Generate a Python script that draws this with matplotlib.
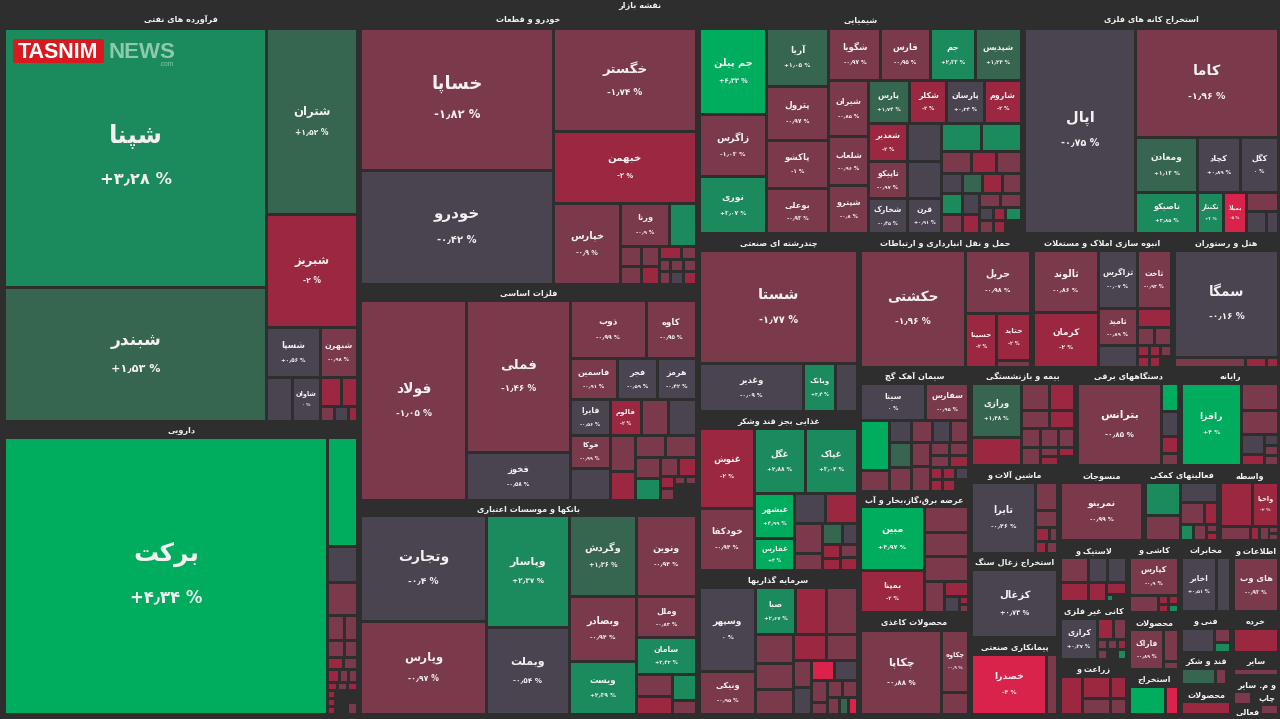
import re
import numpy as np
import matplotlib
matplotlib.use("Agg")
import matplotlib.pyplot as plt
from matplotlib.patches import Rectangle, FancyBboxPatch

nan = float("nan")
# ---------- data: tile names, % change, tile size (value), nesting of the slices ----------
OIL_N = ["شپنا","شبندر","شتران","شبریز","شسپا","شبهرن","","شاوان","","","","",""]
OIL_P = [3.28,1.53,1.52,-2,0.56,-0.98,-0.3,0,-2,-2,-1,-0.3,-2.5]
OIL_S = [67338,34974,16744,10192,2650,1850,1150,1196,609,464,225,210,135]
OIL_T = "H(V(0,1),V(2,3,H(4,5),H(6,7,V(H(8,9),H(10,11,12)))))"

PHARMA_N = ["برکت"]
PHARMA_P = [4.34,4.5,-0.4,-1,-1,-1,-1,-1,-2.2,-1,-2.5,-1,-1,-2,-1.2,-2,-2,-2,-2,nan,nan,-1]
PHARMA_S = [89471,3270,1050,990,425,325,289,221,192,168,156,117,117,80,80,80,64,64,64,264,144,120]
PHARMA_T = "H(0,V(1,2,3,H(4,5),H(6,7),H(8,9),H(10,11,12),H(13,14,15),H(V(16,17,18),V(19,H(20,21)))))"

AUTO_N = ["خساپا","خودرو","خگستر","خبهمن","خپارس","ورنا"]
AUTO_P = [-1.82,-0.42,-1.74,-2,-0.9,-0.9,2.5,-1,-1,-1,-2,-2,-1,-1,-1,-1,-1,-0.3,-2]
AUTO_S = [27264,21888,14729,10153,5427,2107,1161,420,378,360,324,286,195,132,143,156,156,169,169]
AUTO_T = "H(V(0,1),V(2,3,H(4,V(H(5,6),H(V(7,8),V(9,10),V(H(11,12),H(V(13,14),V(H(15,16),H(17,18)))))))))"

METAL_N = ["فولاد","فملی","فخوز","ذوب","کاوه","فاسمین","فجر","هرمز","فایرا","فالوم","","","فوکا"]
METAL_P = [-1.05,-1.46,-0.58,-0.99,-0.95,-0.91,-0.59,-0.42,-0.56,-2,-1,-0.3,-0.99,-0.3,-1,-2,-1,-1,-1,2.5,-1,-2,-2,-1,-1,-1,nan]
METAL_S = [21200,15656,4944,4408,2900,1927,1640,1599,1440,1116,972,1008,1320,1280,900,725,660,682,525,550,342,342,168,168,88,88,352]
METAL_T = "H(0,V(1,2),V(H(3,4),H(5,6,7),H(8,9,10,11),H(V(12,13),V(14,15),V(H(16,17),H(V(18,19),V(H(20,21),H(V(22,23),V(H(24,25),26))))))))"

BANK_N = ["وتجارت","وپارس","وپاسار","وبملت","وگردش","وبصادر","ویست","ونوین","وملل","سامان"]
BANK_P = [-0.4,-0.97,2.37,-0.54,1.36,-0.94,2.39,-0.94,-0.83,2.43,-1,-2,2.5,-1]
BANK_S = [13250,11625,9213,7221,5427,4288,3551,4860,2400,2220,792,648,624,336]
BANK_T = "H(V(0,1),V(2,3),V(4,5,6),V(7,8,9,H(V(10,11),V(12,13))))"

CHEM_N = ["جم پیلن","زاگرس","نوری","آریا","پترول","پاکشو","بوعلی","شگویا","فارس","جم","شپدیس","شیران","شلعاب","شپترو",
          "پارس","شکلر","پارسان","شاروم","شغدیر","تاپیکو","شخارک","","","قرن"]
CHEM_P = [4.33,-1.03,3.07,1.05,-0.97,-1,-0.93,-0.97,-0.95,2.33,1.24,-0.85,-0.96,-0.8,1.74,-2,0.34,-2,-2,-0.97,-0.45,-0.3,-0.3,0.91,
          2.5,2.5,-1,-2,-1,-0.3,1.3,-2,-1,2.5,-1,-0.3,-2,-1,-1,-0.3,-2,2.5,-1,-2,nan]
CHEM_S = [5695,4154,3752,3591,3339,3024,2772,2704,2548,2340,2392,2200,1920,1880,1763,1591,1591,1591,1482,1443,1365,1292,1258,1190,
          1092,1120,638,550,550,400,400,400,380,420,380,357,323,294,294,182,156,208,182,156,208]
CHEM_T = "H(V(0,1,2),V(3,4,5,6),V(H(7,8,9,10),H(V(11,12,13),V(H(14,15,16,17),H(V(18,19,20),V(21,22,23),V(H(24,25),H(26,27,28),H(29,30,31,32),H(V(33,34),V(35,36),V(H(37,38),H(39,40,41),H(42,43,44)))))))))"

ORE_N = ["اپال","کاما","ومعادن","کچاد","کگل","تاصیکو","تکنتار","بمیلا"]
ORE_P = [-0.75,-1.96,1.13,0.89,0,3.85,3,-5,-1,-0.3,-0.3]
ORE_S = [22755,15587,3410,2365,2090,2542,1066,943,608,440,264]
ORE_T = "H(0,V(1,H(2,3,4),H(5,6,7,V(8,H(9,10)))))"

MULTI_N = ["شستا","وغدیر","وبانک"]
MULTI_P = [-1.77,-0.09,3.4,-0.3]
MULTI_S = [17696,4992,1536,1056]
MULTI_T = "V(0,H(1,2,3))"

FOOD_N = ["غنوش","خودکفا","غگل","غپاک","غبشهر","غفارس"]
FOOD_P = [-2,-0.94,2.88,3.04,4.99,4,-0.3,-2,-1,-1,1.8,-0.3,-2,-2,-1,-2]
FOOD_S = [4400,3410,3315,3380,1800,1280,930,960,840,476,420,315,252,216,221,221]
FOOD_T = "H(V(0,1),V(H(2,3),H(V(4,5),V(H(6,7),H(V(8,9),V(H(10,11),H(V(12,13),V(14,15))))))))"

INVEST_N = ["وسپهر","ونیکی","صبا"]
INVEST_P = [0,-0.95,2.67,-2,-1,-1,-1,-1,-2,-1,-1,-0.3,-4,-0.3,-1,-1,-1,-1,-1,1.5,-4]
INVEST_S = [4704,2408,1880,1457,1457,1102,988,950,858,806,486,486,460,460,352,192,255,255,204,153,153]
INVEST_T = "H(V(0,1),V(H(2,3,4),H(V(5,6,7),V(H(8,9),H(V(10,11),V(H(12,13),H(V(14,15),V(H(16,17),H(18,19,20)))))))))"

TRANS_N = ["حکشتی","حریل","حسینا","حتاید"]
TRANS_P = [-1.96,-0.98,-2,-2,-1]
TRANS_S = [12051,4032,1674,1551,231]
TRANS_T = "H(0,V(1,H(2,V(3,4))))"

BUILD_N = ["ثالوند","کرمان","ثزاگرس","ثاخت","ثامید"]
BUILD_P = [-0.86,-2,-0.07,-0.93,-0.89,-0.3,-2,-1,-1,-2,-2,-1,-2,-2,nan]
BUILD_S = [3968,3520,2204,1972,1406,836,646,306,306,132,121,121,132,121,121]
BUILD_T = "H(V(0,1),V(H(2,3),H(V(4,5),V(6,H(7,8),H(9,10,11),H(12,13,14)))))"

HOTEL_N = ["سمگا"]
HOTEL_P = [-0.16,-1,-2,-2]
HOTEL_S = [10500,680,200,120]
HOTEL_T = "V(0,H(1,2,3))"

CEMENT_N = ["سیتا","سفارس"]
CEMENT_P = [0,-0.95,4.5,-1,-0.3,-1,-0.3,-1,1.3,-1,-1,-1,-1,-1,-1,-2,-2,-2,-2,-2,-0.3,nan]
CEMENT_S = [2405,1591,1450,609,484,462,396,396,550,528,456,475,247,247,228,228,156,156,156,156,156,156]
CEMENT_T = "V(H(0,1),H(V(2,3),V(H(4,5,6,7),H(V(8,9),V(10,11),V(H(12,13),H(14,15),H(V(16,17),V(18,19),V(20,21)))))))"

POWER_N = ["مبین","بمپنا"]
POWER_P = [4.97,-2,-1,-1,-1.9,-1,-2,-0.3,-2,-1]
POWER_S = [4032,2688,1144,1056,1056,620,360,240,72,72]
POWER_T = "H(V(0,1),V(2,3,4,H(5,V(6,H(7,V(8,9))))))"

PAPER_N = ["چکاپا","چکاوه"]
PAPER_P = [-0.88,-0.9,-1]
PAPER_S = [6636,1612,572]
PAPER_T = "H(0,V(1,2))"

INSUR_N = ["ورازی"]
INSUR_P = [1.48,-2,-1,-2,-1,-2,-1,-1,-1,-1,-1,-2,-2,nan]
INSUR_S = [2700,1400,756,675,504,450,361,342,304,342,162,162,144,144]
INSUR_T = "H(V(0,1),V(H(2,3),H(4,5),H(6,7,8),H(9,V(10,11),V(12,13))))"

ELEC_N = ["بترانس"]
ELEC_P = [-0.85,4.5,-0.3,-2,-1]
ELEC_S = [6724,476,425,289,204]
ELEC_T = "H(0,V(1,2,3,4))"

COMP_N = ["رافزا"]
COMP_P = [4,-1,-1,-0.3,-2,-0.3,-1,-1]
COMP_S = [4756,972,864,440,242,154,140,140]
COMP_T = "H(0,V(1,2,H(V(3,4),V(5,6,7))))"

MACH_N = ["تایرا"]
MACH_P = [-0.46,-1,-1,-2,-1,-2,-1]
MACH_S = [4544,616,374,196,112,132,132]
MACH_T = "H(0,V(1,2,H(3,4),H(5,6)))"

COAL_N, COAL_P, COAL_S, COAL_T = ["کزغال"], [0.73], [5000], "H(0)"
CONTR_N, CONTR_P, CONTR_S = ["خصدرا"], [-4,-1.9], [4636,671]
CONTR_T = "H(0,1)"
TEXT_N, TEXT_P, TEXT_S, TEXT_T = ["نمرینو"], [-0.99], [5000], "H(0)"

AUX_N = [""]
AUX_P = [3,-1,-0.3,-1,-2,3,-1,-1,-2]
AUX_S = [1089,825,680,484,264,192,192,80,80]
AUX_T = "H(V(0,1),V(2,H(3,4),H(5,6,V(7,8))))"

BROKER_N = ["","واحیا"]
BROKER_P = [-2,-2,-1,-2.5,-1,-1,-1]
BROKER_S = [1320,1100,392,126,126,63,63]
BROKER_T = "V(H(0,1),H(2,3,4,V(5,6)))"

RUBBER_N = [""]
RUBBER_P = [-1,-0.3,-0.3,-2,-2,-2,2.5,nan]
RUBBER_S = [700,475,475,532,342,240,49,91]
RUBBER_T = "V(H(0,1,2),H(3,4,V(5,H(6,7))))"

NONMET_N = ["کرازی"]
NONMET_P = [0.27,-2,-1,-1,-1,-2,-1,nan,2.5]
NONMET_S = [1517,336,273,100,100,90,100,100,90]
NONMET_T = "H(0,V(H(1,2),H(3,4,5),H(6,7,8)))"

AGRI_N = [""]
AGRI_P = [-2,-2,-1,-2,-1]
AGRI_S = [836,616,448,352,256]
AGRI_T = "H(0,V(1,2),V(3,4))"

CERAM_N = ["کپارس"]
CERAM_P = [-0.9,-1,-2,-2,-2,2.5]
CERAM_S = [1862,493,90,80,90,80]
CERAM_T = "V(0,H(1,V(2,3),V(4,5)))"

PROD_N, PROD_P, PROD_S = ["فاراک"], [-0.89,-1,-1], [1360,480,120]
PROD_T = "H(0,V(1,2))"
MINE_N, MINE_P, MINE_S = [""], [4.5,-4], [1008,364]
MINE_T = "H(0,1)"
TELE_N, TELE_P, TELE_S = ["اخابر"], [0.51,-0.3], [1925,770]
TELE_T = "H(0,1)"
TECH_N, TECH_P, TECH_S = [""], [-0.3,-1,2.5], [792,224,160]
TECH_T = "H(0,V(1,2))"
SUGAR_N, SUGAR_P, SUGAR_S = [""], [1.5,-1,nan], [544,176,64]
SUGAR_T = "H(0,1,2)"
MFG_N, MFG_P, MFG_S, MFG_T = [""], [-2], [100], "H(0)"
INFO_N, INFO_P, INFO_S, INFO_T = ["های وب"], [-0.93], [100], "H(0)"
RETAIL_N, RETAIL_P, RETAIL_S, RETAIL_T = [""], [-2], [100], "H(0)"
OTHER_N, OTHER_P, OTHER_S, OTHER_T = [""], [-1], [100], "H(0)"
PRINT_N, PRINT_P, PRINT_S = [""], [-1,nan,nan,-1], [216,324,243,162]
PRINT_T = "V(H(0,1),H(2,3))"

SECTOR_TITLES = ["فرآورده های نفتی","دارویی","خودرو و قطعات","فلزات اساسی","بانکها و موسسات اعتباری",
    "شیمیایی","استخراج کانه های فلزی","چندرشته ای صنعتی","غذایی بجز قند وشکر","سرمایه گذاریها",
    "حمل و نقل انبارداری و ارتباطات","انبوه سازی املاک و مستغلات","هتل و رستوران",
    "سیمان آهک گچ","عرضه برق،گاز،بخار و آب","محصولات کاغذی",
    "بیمه و بازنشستگی","دستگاههای برقی","رایانه",
    "ماشین آلات و","استخراج زغال سنگ","پیمانکاری صنعتی",
    "منسوجات","فعالیتهای کمکی","واسطه",
    "لاستیک و","کانی غیر فلزی","زراعت و",
    "کاشی و","محصولات","استخراج",
    "مخابرات","فنی و","قند و شکر","محصولات",
    "اطلاعات و","خرده","سایر",""]
SECTOR_TOTALS = [147028,104308,93564,73224,72546,73125,57825,28658,25599,23184,
    23182,18894,14338,13764,13431,11322,10388,10192,9800,7832,7476,6853,
    6375,5625,4575,4209,4002,3795,3744,2964,2340,3692,2132,1664,1560,3408,1968,1104,1872]
SECTOR_HEADERS = [18.5,14.5,18.5,14.5,13.5,18.5,18.5,15.5,15.5,15.5,
    15.5,15.5,15.5,14.5,13.5,16.5,14.5,14.5,14.5,15.5,14.5,15.5,
    15.5,15.5,15.5,15.5,15.5,15.5,15.5,15.5,15.5,15.5,15.5,14.5,15.5,15.5,15.5,14.5,14.5]
SECTOR_DATA = [(OIL_N,OIL_P,OIL_S,OIL_T),(PHARMA_N,PHARMA_P,PHARMA_S,PHARMA_T),(AUTO_N,AUTO_P,AUTO_S,AUTO_T),
    (METAL_N,METAL_P,METAL_S,METAL_T),(BANK_N,BANK_P,BANK_S,BANK_T),(CHEM_N,CHEM_P,CHEM_S,CHEM_T),(ORE_N,ORE_P,ORE_S,ORE_T),
    (MULTI_N,MULTI_P,MULTI_S,MULTI_T),(FOOD_N,FOOD_P,FOOD_S,FOOD_T),(INVEST_N,INVEST_P,INVEST_S,INVEST_T),
    (TRANS_N,TRANS_P,TRANS_S,TRANS_T),(BUILD_N,BUILD_P,BUILD_S,BUILD_T),(HOTEL_N,HOTEL_P,HOTEL_S,HOTEL_T),
    (CEMENT_N,CEMENT_P,CEMENT_S,CEMENT_T),(POWER_N,POWER_P,POWER_S,POWER_T),(PAPER_N,PAPER_P,PAPER_S,PAPER_T),
    (INSUR_N,INSUR_P,INSUR_S,INSUR_T),(ELEC_N,ELEC_P,ELEC_S,ELEC_T),(COMP_N,COMP_P,COMP_S,COMP_T),
    (MACH_N,MACH_P,MACH_S,MACH_T),(COAL_N,COAL_P,COAL_S,COAL_T),(CONTR_N,CONTR_P,CONTR_S,CONTR_T),
    (TEXT_N,TEXT_P,TEXT_S,TEXT_T),(AUX_N,AUX_P,AUX_S,AUX_T),(BROKER_N,BROKER_P,BROKER_S,BROKER_T),
    (RUBBER_N,RUBBER_P,RUBBER_S,RUBBER_T),(NONMET_N,NONMET_P,NONMET_S,NONMET_T),(AGRI_N,AGRI_P,AGRI_S,AGRI_T),
    (CERAM_N,CERAM_P,CERAM_S,CERAM_T),(PROD_N,PROD_P,PROD_S,PROD_T),(MINE_N,MINE_P,MINE_S,MINE_T),
    (TELE_N,TELE_P,TELE_S,TELE_T),(TECH_N,TECH_P,TECH_S,TECH_T),(SUGAR_N,SUGAR_P,SUGAR_S,SUGAR_T),(MFG_N,MFG_P,MFG_S,MFG_T),
    (INFO_N,INFO_P,INFO_S,INFO_T),(RETAIL_N,RETAIL_P,RETAIL_S,RETAIL_T),(OTHER_N,OTHER_P,OTHER_S,OTHER_T),(PRINT_N,PRINT_P,PRINT_S,PRINT_T)]
ROOT_TREE = ("H(V(0,1),V(2,3,4),V(H(5,6),H(V(7,8,9),V(H(10,11,12),H(V(13,14,15),V(H(16,17,18),"
             "H(V(19,20,21),V(H(22,23,24),H(V(25,26,27),V(28,29,30),V(31,32,33,34),V(35,36,37,38))))))))))")
MAP_TITLE = "نقشه بازار"
LOOSE_TITLES = [("و م. سایر", 1257, 685), ("چاپ", 1267, 698), ("فعالی", 1248, 712)]

# ---------- style ----------
BG = "#2e2e2e"
GAP, PAD = 1.5, 1.5
TITLE_PT = 5.9
def tile_colour(p):
    if p <= -3.5: return "#d9234a"
    if p <= -1.98: return "#9b2840"
    if p <= -0.78: return "#7a3a4c"
    if p < 1.0: return "#4a4450"
    if p < 2.0: return "#36664f"
    if p < 3.95: return "#1b8a5c"
    return "#00ad5f"

# ---------- Persian shaping: matplotlib draws glyphs left to right without joining ----------
def _f(iso, fin, ini=None, med=None):
    return tuple(chr(c) if c else None for c in (iso, fin, ini, med))
def _f4(start):
    return _f(start, start+1, start+2, start+3)
FORMS = {"ا":_f(0xFE8D,0xFE8E),"آ":_f(0xFE81,0xFE82),"ب":_f4(0xFE8F),"پ":_f4(0xFB56),"ت":_f4(0xFE95),"ث":_f4(0xFE99),
    "ج":_f4(0xFE9D),"چ":_f4(0xFB7A),"ح":_f4(0xFEA1),"خ":_f4(0xFEA5),"د":_f(0xFEA9,0xFEAA),"ذ":_f(0xFEAB,0xFEAC),
    "ر":_f(0xFEAD,0xFEAE),"ز":_f(0xFEAF,0xFEB0),"ژ":_f(0xFB8A,0xFB8B),"س":_f4(0xFEB1),"ش":_f4(0xFEB5),"ص":_f4(0xFEB9),
    "ض":_f4(0xFEBD),"ط":_f4(0xFEC1),"ظ":_f4(0xFEC5),"ع":_f4(0xFEC9),"غ":_f4(0xFECD),"ف":_f4(0xFED1),"ق":_f4(0xFED5),
    "ک":_f4(0xFB8E),"گ":_f4(0xFB92),"ل":_f4(0xFEDD),"م":_f4(0xFEE1),"ن":_f4(0xFEE5),"و":_f(0xFEED,0xFEEE),
    "ه":_f4(0xFEE9),"ی":_f4(0xFBFC)}
def shape(s):
    s = s.replace("لا", "\uFEFB").replace("لآ", "\uFEF5")
    out, n = [], len(s)
    for i, c in enumerate(s):
        prev = s[i-1] if i > 0 else ""
        nxt = s[i+1] if i+1 < n else ""
        jp = prev in FORMS and FORMS[prev][2] is not None
        if c in "\uFEFB\uFEF5":
            out.append(chr(ord(c)+1) if jp else c)
            continue
        if c not in FORMS:
            out.append(c)
            continue
        iso, fin, ini, med = FORMS[c]
        jn = (nxt in FORMS or nxt in "\uFEFB\uFEF5") and nxt != "" and ini is not None
        out.append(med if jp and jn else fin if jp else ini if jn else iso)
    return "".join(reversed(out))

PERSIAN = str.maketrans("0123456789.", "۰۱۲۳۴۵۶۷۸۹٫")
def pct_label(p):
    sign = "+" if p > 0 else "-" if p < 0 else ""
    txt = f"{abs(p):.2f}".rstrip("0").rstrip(".")
    return f"{sign}{txt.translate(PERSIAN)} %"

# ---------- slice layout from values ----------
def parse(s):
    toks = re.findall(r"[HV]\(|\)|\d+", s)
    pos = 0
    def node():
        nonlocal pos
        t = toks[pos]; pos += 1
        if t.isdigit():
            return int(t)
        kids = []
        while toks[pos] != ")":
            kids.append(node())
        pos += 1
        return (t[0], kids)
    return node()

def weight(n, vals):
    return vals[n] if isinstance(n, int) else sum(weight(k, vals) for k in n[1])

def layout(n, vals, x0, x1, y0, y1, out):
    if isinstance(n, int):
        out[n] = (x0, x1, y0, y1)
        return
    total = weight(n, vals)
    cur = x0 if n[0] == "H" else y0
    span = (x1 - x0) if n[0] == "H" else (y1 - y0)
    for k in n[1]:
        step = span * weight(k, vals) / total
        if n[0] == "H":
            layout(k, vals, cur, cur + step, y0, y1, out)
        else:
            layout(k, vals, x0, x1, cur, cur + step, out)
        cur += step

FONT = ["DejaVu Sans"]
def name_px(m):
    return float(np.interp(m, [15, 25, 35, 50, 60, 90, 110, 140, 260], [5.5, 6.8, 8, 8.8, 9.6, 11.8, 15, 18, 25]))

fig = plt.figure(figsize=(12.8, 7.19), dpi=100, facecolor=BG)
ax = fig.add_axes([0, 0, 1, 1])
ax.set_xlim(0, 1280); ax.set_ylim(719, 0); ax.axis("off")
renderer = fig.canvas.get_renderer()

def fit_text(t, maxw):
    w = t.get_window_extent(renderer).width
    if w > maxw > 0:
        t.set_fontsize(t.get_fontsize() * maxw / w)

sector_rects = {}
layout(parse(ROOT_TREE), SECTOR_TOTALS, 3, 1280, 10, 716, sector_rects)

for i, (names, pcts, sizes, tree) in enumerate(SECTOR_DATA):
    sx0, sx1, sy0, sy1 = sector_rects[i]
    head = SECTOR_HEADERS[i]
    if SECTOR_TITLES[i]:
        ax.text((sx0 + sx1) / 2, sy0 + head / 2 + 0.5, shape(SECTOR_TITLES[i]), ha="center", va="center",
                color="#f2f2f2", fontsize=TITLE_PT, fontweight="bold", family=FONT)
    rects = {}
    layout(parse(tree), sizes, sx0 + PAD, sx1 - PAD, sy0 + head, sy1 - PAD, rects)
    for j, p in enumerate(pcts):
        if np.isnan(p):
            continue
        x0, x1, y0, y1 = rects[j]
        g = min(GAP, 0.2 * min(x1 - x0, y1 - y0))
        w, h = x1 - x0 - 2 * g, y1 - y0 - 2 * g
        ax.add_patch(Rectangle((x0 + g, y0 + g), w, h, facecolor=tile_colour(p), edgecolor="none"))
        name = names[j] if j < len(names) else ""
        if name:
            fpx = name_px(min(w, h))
            cx, cy = x0 + g + w / 2, y0 + g + h / 2
            off = 0.85 * fpx
            t1 = ax.text(cx, cy - off, shape(name), ha="center", va="center", color="#f4f0f2",
                         fontsize=fpx * 0.72, fontweight="bold", family=FONT)
            fit_text(t1, w - 3)
            t2 = ax.text(cx, cy + off, pct_label(p), ha="center", va="center", color="#f4f0f2",
                         fontsize=fpx * 0.72 * 0.66, fontweight="bold", family=FONT)
            fit_text(t2, w - 3)

ax.text(640, 5.5, shape(MAP_TITLE), ha="center", va="center", color="#f2f2f2", fontsize=TITLE_PT, fontweight="bold", family=FONT)
for txt, x, y in LOOSE_TITLES:
    ax.text(x, y, shape(txt), ha="center", va="center", color="#f2f2f2", fontsize=TITLE_PT, fontweight="bold", family=FONT)

# watermark
ax.add_patch(FancyBboxPatch((13, 39), 91, 24, boxstyle="round,pad=0,rounding_size=2.5", facecolor="#d81920", edgecolor="none", zorder=5))
ax.text(58.5, 52, "TASNIM", ha="center", va="center", color="white", fontsize=15.5, fontweight="bold", family="Liberation Sans", zorder=6)
ax.text(142, 52, "NEWS", ha="center", va="center", color="#8ccbaa", fontsize=16, fontweight="bold", family="Liberation Sans", zorder=6)
ax.text(167, 64.5, ".com", ha="center", va="center", color="#8ccbaa", fontsize=4.8, family="Liberation Sans", zorder=6)

fig.savefig("out.png", dpi=100, facecolor=BG)
